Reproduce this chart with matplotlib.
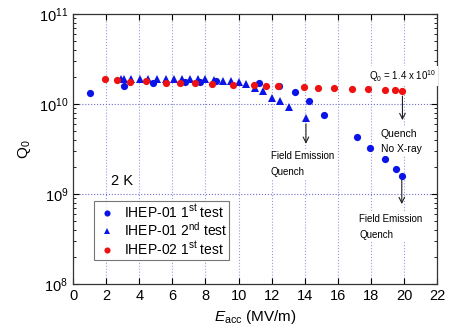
import matplotlib
matplotlib.use("Agg")
import matplotlib.pyplot as plt
from matplotlib.ticker import LogLocator, NullFormatter, FixedLocator

plt.rcParams['font.family'] = ['Liberation Sans', 'DejaVu Sans']
plt.rcParams['mathtext.fontset'] = 'custom'
plt.rcParams['mathtext.rm'] = 'Liberation Sans'
plt.rcParams['mathtext.it'] = 'Liberation Sans:italic'

# IHEP-01 1st test
e01_1 = [1.03, 3.08, 4.83, 6.77, 7.67, 8.62, 11.24, 12.45, 13.39, 14.28, 15.19,
         17.14, 17.95, 18.85, 19.5, 19.86]
q01_1 = [1.32e10, 1.60e10, 1.71e10, 1.77e10, 1.77e10, 1.80e10, 1.71e10, 1.58e10,
         1.37e10, 1.08e10, 7.55e9, 4.33e9, 3.27e9, 2.43e9, 1.90e9, 1.58e9]

# IHEP-01 2nd test
e01_2 = [2.88, 3.1, 3.5, 4.05, 4.55, 5.09, 5.6, 6.1, 6.6, 7.07, 7.57, 8.0, 8.52,
         9.05, 9.57, 10.03, 10.45, 11.0, 11.45, 12.0, 12.5, 13.05, 14.07]
q01_2 = [1.9e10, 1.9e10, 1.9e10, 1.9e10, 1.9e10, 1.9e10, 1.9e10, 1.9e10, 1.9e10,
         1.9e10, 1.88e10, 1.87e10, 1.85e10, 1.82e10, 1.80e10, 1.74e10, 1.66e10,
         1.52e10, 1.39e10, 1.17e10, 1.08e10, 9.34e9, 6.93e9]

# IHEP-02 1st test
e02_1 = [1.93, 2.64, 3.42, 4.41, 5.64, 6.47, 7.35, 8.37, 9.65, 10.95, 11.66, 12.41,
         13.98, 14.82, 15.75, 16.86, 17.82, 18.83, 19.43, 19.9]
q02_1 = [1.91e10, 1.83e10, 1.77e10, 1.80e10, 1.70e10, 1.70e10, 1.70e10, 1.67e10,
         1.63e10, 1.61e10, 1.58e10, 1.57e10, 1.53e10, 1.51e10, 1.49e10, 1.48e10,
         1.46e10, 1.43e10, 1.41e10, 1.39e10]

labels = ['IHEP-01 1$^{\\rm st}$ test', 'IHEP-01 2$^{\\rm nd}$ test', 'IHEP-02 1$^{\\rm st}$ test']

fig = plt.figure(figsize=(4.54, 3.32), dpi=100)
ax = fig.add_axes([0.161, 0.145, 0.802, 0.813])

# grid
for gx in range(2, 22, 2):
    ax.axvline(gx, color='#9a9ade', ls=':', lw=0.8, zorder=0)
for gy in [1e9, 1e10]:
    ax.axhline(gy, color='#6f6fcc', ls=':', lw=0.8, zorder=0)

ax.plot(e01_1, q01_1, 'o', color='#0a14e6', ms=5.2, mew=0, label=labels[0], zorder=2)
ax.plot(e01_2, q01_2, '^', color='#0a14e6', ms=5.2, mew=0, label=labels[1], zorder=2)
ax.plot(e02_1, q02_1, 'o', color='#ee1111', ms=5.2, mew=0, label=labels[2], zorder=3)

ax.set_yscale('log')
ax.set_xlim(0, 22)
ax.set_ylim(1e8, 1e11)
ax.xaxis.set_major_locator(FixedLocator(range(0, 23, 2)))
ax.yaxis.set_major_locator(LogLocator(base=10, numticks=10))
ax.yaxis.set_minor_locator(LogLocator(base=10, subs=range(2, 10), numticks=10))
ax.yaxis.set_minor_formatter(NullFormatter())
ax.tick_params(which='both', direction='in', top=True, right=True, labelsize=10.5)
ax.tick_params(which='major', length=4, width=0.8)
ax.tick_params(which='minor', length=2.5, width=0.6)
for s in ax.spines.values():
    s.set_linewidth(0.9)
    s.set_color('#333333')

ax.set_xlabel('$E_{\\rm acc}$ (MV/m)', fontsize=11, labelpad=4)
ax.set_ylabel('Q$_{\\rm 0}$', fontsize=11, labelpad=4)

box = dict(facecolor='white', edgecolor='none', pad=1.5)
ax.text(17.9, 1.85e10, 'Q$_{\\rm 0}$ = 1.4 x 10$^{10}$', fontsize=7, bbox=box, zorder=4)
ax.text(18.6, 5.2e9, 'Quench\nNo X-ray', fontsize=7.5, va='top', bbox=box,
        linespacing=1.6, zorder=4)
ax.text(11.95, 3.0e9, 'Field Emission\nQuench', fontsize=7, va='top', bbox=box,
        linespacing=1.8, zorder=4)
ax.text(17.3, 6.0e8, 'Field Emission\nQuench', fontsize=7, va='top', bbox=box,
        linespacing=1.8, zorder=4)
ax.text(2.3, 1.25e9, '2 K', fontsize=10.5)

arrow = dict(arrowstyle='->', color='#222222', lw=0.8, shrinkA=0, shrinkB=0)
ax.annotate('', xy=(19.9, 6.6e9), xytext=(19.9, 1.22e10), arrowprops=arrow)
ax.annotate('', xy=(14.07, 3.6e9), xytext=(14.07, 6.0e9), arrowprops=arrow)
ax.annotate('', xy=(19.86, 7.7e8), xytext=(19.86, 1.43e9), arrowprops=arrow)

leg = ax.legend(loc='lower left', bbox_to_anchor=(0.057, 0.09), fontsize=10,
                frameon=True, fancybox=False, handletextpad=0.4, borderpad=0.15,
                labelspacing=0.05, handlelength=1.6, borderaxespad=0,
                markerscale=0.85)
leg.get_frame().set_edgecolor('#555555')
leg.get_frame().set_linewidth(0.8)

fig.savefig('out.png', dpi=100)
